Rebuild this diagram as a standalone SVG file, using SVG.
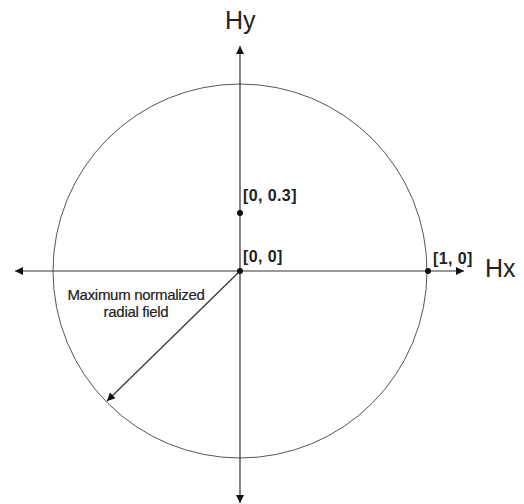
<svg xmlns="http://www.w3.org/2000/svg" width="524" height="504" viewBox="0 0 524 504">
<style>
.ax{stroke:#333;stroke-width:1.2;fill:none}
.lbl{font-family:"Liberation Sans",Arial,sans-serif;font-weight:bold;font-size:16px;fill:#222;letter-spacing:0.4px}
.big{font-family:"Liberation Sans",Arial,sans-serif;font-size:25px;fill:#222}
.note{font-family:"Liberation Sans",Arial,sans-serif;font-size:15px;fill:#222;letter-spacing:-0.3px;stroke:#222;stroke-width:0.2}
.dot{fill:#111}
</style>
<defs>
<marker id="ah" viewBox="0 0 10 10" refX="10" refY="5" markerWidth="9" markerHeight="8" markerUnits="userSpaceOnUse" orient="auto">
<path d="M0,0 L10,5 L0,10 z" fill="#111"/>
</marker>
</defs>
<g id="circle"><circle cx="240" cy="271" r="187" fill="none" stroke="#555" stroke-width="1"/></g>
<g id="connectors">
<line class="ax" x1="240" y1="271" x2="15" y2="271" marker-end="url(#ah)"/>
<line class="ax" x1="240" y1="271" x2="464" y2="271" marker-end="url(#ah)"/>
<line class="ax" x1="240" y1="271" x2="240" y2="46" marker-end="url(#ah)"/>
<line class="ax" x1="240" y1="271" x2="240" y2="503" marker-end="url(#ah)"/>
<line class="ax" x1="240" y1="271" x2="107" y2="401" marker-end="url(#ah)"/>
</g>
<g id="origin"><circle class="dot" cx="240" cy="271" r="3"/><text class="lbl" x="243" y="262">[0, 0]</text></g>
<g id="p03"><circle class="dot" cx="240" cy="213" r="3"/><text class="lbl" x="243" y="201">[0, 0.3]</text></g>
<g id="p10"><circle class="dot" cx="428" cy="271" r="3"/><text class="lbl" x="433" y="264">[1, 0]</text></g>
<g id="hy"><text class="big" x="225" y="29">Hy</text></g>
<g id="hx"><text class="big" x="485" y="277">Hx</text></g>
<g id="note"><text class="note" text-anchor="middle" x="136" y="300">Maximum normalized</text><text class="note" text-anchor="middle" x="136" y="317">radial field</text></g>
</svg>
